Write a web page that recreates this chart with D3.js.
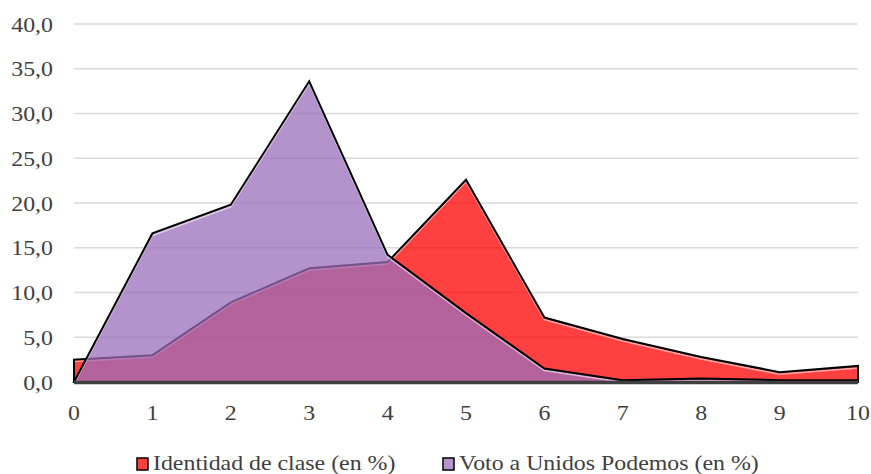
<!DOCTYPE html>
<html>
<head>
<meta charset="utf-8">
<script src="https://cdn.jsdelivr.net/npm/d3@7"></script>
<style>
  html, body { margin: 0; padding: 0; background: #fff; }
  svg { display: block; }
  text { font-family: "Liberation Serif", "Times New Roman", serif; }
</style>
</head>
<body>
<svg id="chart" width="871" height="474"></svg>
<script>
const categories = [0, 1, 2, 3, 4, 5, 6, 7, 8, 9, 10];
const identidadClase = [2.5, 3.0, 8.9, 12.7, 13.4, 22.6, 7.2, 4.8, 2.8, 1.1, 1.8];
const votoUP = [0.0, 16.6, 19.8, 33.6, 14.2, 7.7, 1.5, 0.2, 0.4, 0.2, 0.2];
const yTicks = [0, 5, 10, 15, 20, 25, 30, 35, 40];
const seriesNames = ["Identidad de clase (en %)", "Voto a Unidos Podemos (en %)"];

const svg = d3.select("#chart");
const TXT = "#404040";
const FS = 21.5;   // font size
const SX = 1.11;   // horizontal stretch seen in reference

const x = d3.scaleLinear().domain([0, 10]).range([74, 858]);
const y = d3.scaleLinear().domain([0, 40]).range([382, 24]);

// gridlines
svg.append("g").selectAll("line").data(yTicks.filter(d => d > 0)).join("line")
  .attr("x1", x(0)).attr("x2", x(10))
  .attr("y1", d => y(d)).attr("y2", d => y(d))
  .attr("stroke", "#d9d9d9").attr("stroke-width", 1.3);

function stretchedText(g, px, py, anchor, str) {
  return g.append("text")
    .attr("transform", `translate(${px},${py}) scale(${SX},1)`)
    .attr("text-anchor", anchor)
    .attr("font-size", FS)
    .attr("fill", TXT)
    .text(str);
}

// y labels
const fmt = v => v.toFixed(1).replace(".", ",");
const gy = svg.append("g");
yTicks.forEach(v => stretchedText(gy, 53, y(v) + 7.5, "end", fmt(v)));

// x labels
const gx = svg.append("g");
categories.forEach(c => stretchedText(gx, x(c), 420, "middle", String(c)));

const area = d3.area().x((d, i) => x(categories[i])).y0(y(0)).y1(d => y(d));
const line = d3.line().x((d, i) => x(categories[i])).y(d => y(d));

function poly(vals) {
  const pts = vals.map((v, i) => [x(categories[i]), y(v)]);
  pts.push([x(10), y(0)]);
  pts.unshift([x(0), y(0)]);
  return "M" + pts.map(p => p.join(",")).join("L") + "Z";
}

function drawSeries(vals, fill, opacity) {
  const g = svg.append("g");
  g.append("path").attr("d", area(vals)).attr("fill", fill).attr("fill-opacity", opacity);
  g.append("path").attr("d", line(vals))
    .attr("transform", "translate(0,2)")
    .attr("fill", "none").attr("stroke", "#ffffff").attr("stroke-opacity", 0.55).attr("stroke-width", 1.5);
  g.append("path").attr("d", poly(vals))
    .attr("fill", "none").attr("stroke", "#000").attr("stroke-width", 2).attr("stroke-linejoin", "miter");
}

drawSeries(identidadClase, "rgb(255,0,0)", 0.75);
drawSeries(votoUP, "rgb(155,110,185)", 0.75);

// x axis line
svg.append("line")
  .attr("x1", x(0)).attr("x2", x(10))
  .attr("y1", y(0) + 0.5).attr("y2", y(0) + 0.5)
  .attr("stroke", "#404040").attr("stroke-width", 3.5);

// legend
const legendItems = [
  { name: seriesNames[0], fill: "rgb(255,64,64)", x: 137 },
  { name: seriesNames[1], fill: "rgb(180,148,203)", x: 443 }
];
const lg = svg.append("g");
legendItems.forEach(it => {
  lg.append("rect").attr("x", it.x).attr("y", 458).attr("width", 11).attr("height", 12)
    .attr("fill", it.fill).attr("stroke", "#000").attr("stroke-width", 1.5);
  stretchedText(lg, it.x + 16, 470, "start", it.name);
});
</script>
</body>
</html>
